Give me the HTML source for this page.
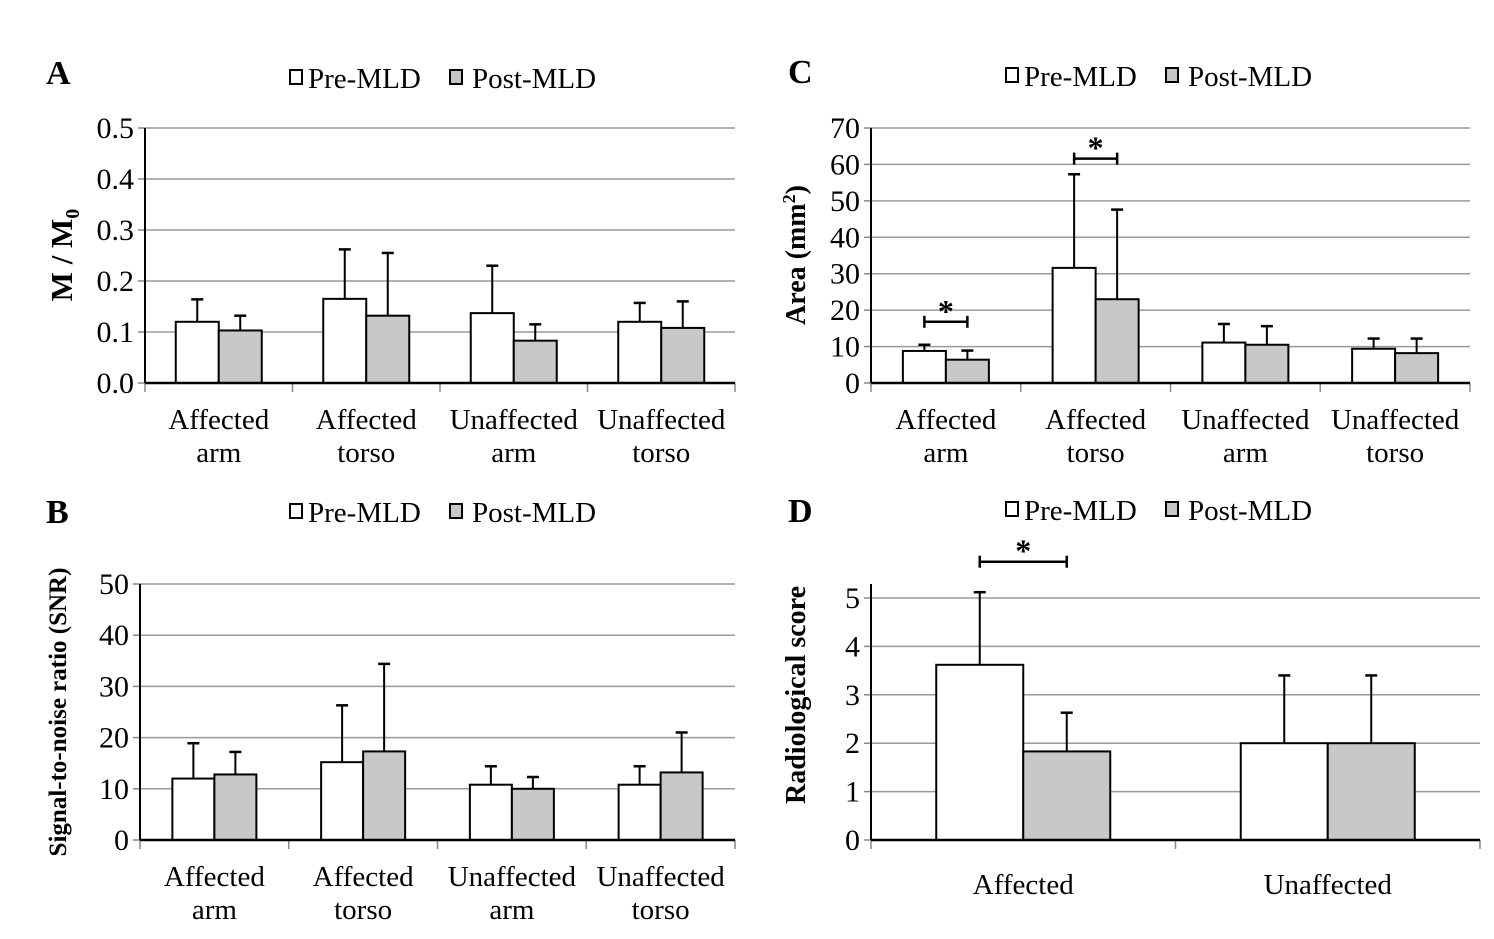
<!DOCTYPE html>
<html><head><meta charset="utf-8">
<style>
html,body{margin:0;padding:0;background:#fff;}
svg{display:block;font-family:"Liberation Serif",serif;}
</style></head>
<body>
<svg id="fig" width="1494" height="939" viewBox="0 0 1494 939" xmlns="http://www.w3.org/2000/svg">
<g id="static">
  <text x="46" y="84" font-size="34" font-weight="bold">A</text>
  <text x="46" y="523" font-size="34" font-weight="bold">B</text>
  <text x="788" y="83" font-size="34" font-weight="bold">C</text>
  <text x="788" y="522" font-size="34" font-weight="bold">D</text>
  <text transform="translate(72,255) rotate(-90)" text-anchor="middle" font-size="31" font-weight="bold">M / M<tspan font-size="20" dy="7">0</tspan></text>
  <text transform="translate(66,712) rotate(-90)" text-anchor="middle" font-size="25" font-weight="bold">Signal-to-noise ratio (SNR)</text>
  <text transform="translate(805,255) rotate(-90)" text-anchor="middle" font-size="28" font-weight="bold">Area (mm<tspan font-size="18" dy="-10">2</tspan><tspan dy="10">)</tspan></text>
  <text transform="translate(805,695) rotate(-90)" text-anchor="middle" font-size="28" font-weight="bold">Radiological score</text>
</g>
</svg>
<script>
const NS='http://www.w3.org/2000/svg';
const svg=document.getElementById('fig');
// Panel A data
const catsA=[['Affected','arm'],['Affected','torso'],['Unaffected','arm'],['Unaffected','torso']];
const preA=[0.12,0.165,0.137,0.12];
const postA=[0.103,0.132,0.083,0.108];
const preErrA=[0.164,0.262,0.23,0.157];
const postErrA=[0.132,0.255,0.115,0.16];
const ticksA=['0.0','0.1','0.2','0.3','0.4','0.5'];
// Panel B data
const catsB=[['Affected','arm'],['Affected','torso'],['Unaffected','arm'],['Unaffected','torso']];
const preB=[12,15.2,10.8,10.8];
const postB=[12.8,17.3,10,13.2];
const preErrB=[18.9,26.3,14.4,14.4];
const postErrB=[17.2,34.4,12.3,21];
const ticksB=['0','10','20','30','40','50'];
// Panel C data
const catsC=[['Affected','arm'],['Affected','torso'],['Unaffected','arm'],['Unaffected','torso']];
const preC=[8.8,31.6,11.1,9.4];
const postC=[6.4,23,10.5,8.2];
const preErrC=[10.5,57.3,16.2,12.2];
const postErrC=[8.9,47.6,15.6,12.2];
const ticksC=['0','10','20','30','40','50','60','70'];
const sigC=[[0,16.8],[1,61.6]];
// Panel D data
const catsD=[['Affected'],['Unaffected']];
const preD=[3.62,2];
const postD=[1.83,2];
const preErrD=[5.12,3.4];
const postErrD=[2.63,3.4];
const ticksD=['0','1','2','3','4','5'];
const sigD=[[0,5.75]];

function el(tag,attrs,parent){const e=document.createElementNS(NS,tag);for(const k in attrs)e.setAttribute(k,attrs[k]);(parent||svg).appendChild(e);return e;}

function panel(p){
  const g=el('g',{});
  
  
  const y=v=>p.bottom-(v/p.tickMax)*(p.bottom-p.tickTop);
  const n=p.cats.length, cw=(p.right-p.ax)/n;
  p.ticks.forEach((t)=>{
    const v=Number(t), yy=y(v);
    if(v>0){const gl=el('line',{x1:p.ax,x2:p.right,y1:yy,y2:yy,stroke:'#9a9a9a','stroke-width':1.5},g);
      
      }
    el('line',{x1:p.ax-7,x2:p.ax,y1:yy,y2:yy,stroke:'#888','stroke-width':1.5},g);
    const tx=el('text',{x:p.ax-11,y:yy+10,'text-anchor':'end','font-size':30},g);
    tx.textContent=t;
    
    
  });
  const ya=el('line',{x1:p.ax,x2:p.ax,y1:p.axTop,y2:p.bottom,stroke:'#000','stroke-width':2},g);
  
  
  for(let i=0;i<=n;i++){el('line',{x1:p.ax+i*cw,x2:p.ax+i*cw,y1:p.bottom,y2:p.bottom+9,stroke:'#888','stroke-width':1.5},g);}
  for(let i=0;i<n;i++){
    const c=p.ax+cw*(i+0.5);
    [[p.pre,p.preErr,'#fff',c-p.bw,'pre'],[p.post,p.postErr,'#c8c8c8',c,'post']].forEach(s=>{
      const v=s[0][i], e=s[1][i], x0=s[3];
      const r=el('rect',{x:x0,y:y(v),width:p.bw,height:p.bottom-y(v),fill:s[2],stroke:'#000','stroke-width':2},g);
      
      
      const ex=x0+p.bw/2;
      el('line',{x1:ex,x2:ex,y1:y(v),y2:y(e),stroke:'#000','stroke-width':2},g);
      const cap=el('line',{x1:ex-6,x2:ex+6,y1:y(e),y2:y(e),stroke:'#000','stroke-width':2.5},g);
      
      
    });
    p.cats[i].forEach((line,j)=>{
      const t=el('text',{x:c,y:p.bottom+(p.cats[i].length===1?54:46)+j*33,'text-anchor':'middle','font-size':29},g);
      t.textContent=line;
      
      
    });
  }
  const xa=el('line',{x1:p.ax,x2:p.right,y1:p.bottom,y2:p.bottom,stroke:'#000','stroke-width':2.5},g);
  
  
  (p.sig||[]).forEach(s=>{
    const c=p.ax+cw*(s[0]+0.5), x1=c-p.bw/2, x2=c+p.bw/2, yy=y(s[1]);
    const b=el('g',{},g);
    
    
    el('line',{x1:x1,x2:x2,y1:yy,y2:yy,stroke:'#000','stroke-width':2.5},b);
    el('line',{x1:x1,x2:x1,y1:yy-6,y2:yy+6,stroke:'#000','stroke-width':2.5},b);
    el('line',{x1:x2,x2:x2,y1:yy-6,y2:yy+6,stroke:'#000','stroke-width':2.5},b);
    const st=el('text',{x:c,y:yy,'text-anchor':'middle','font-size':32,'font-weight':'bold'},b);
    st.textContent='*';
  });
  const lg=el('g',{},g);
  
  
  const lx=p.legX, ly=p.legY;
  const e1=el('rect',{x:lx,y:ly,width:12,height:14,fill:'#fff',stroke:'#000','stroke-width':2},lg);
  
  
  const t1=el('text',{x:lx+18,y:ly+18,'font-size':29},lg);t1.textContent='Pre-MLD';
  
  
  const e2=el('rect',{x:lx+160,y:ly,width:12,height:14,fill:'#c8c8c8',stroke:'#000','stroke-width':2},lg);
  
  
  const t2=el('text',{x:lx+182,y:ly+18,'font-size':29},lg);t2.textContent='Post-MLD';
  
  
}
panel({name:'panel-a',cats:catsA,pre:preA,post:postA,preErr:preErrA,postErr:postErrA,ticks:ticksA,tickMax:0.5,ax:145,right:735,tickTop:128,axTop:128,bottom:383,bw:43,legX:290,legY:70});
panel({name:'panel-b',cats:catsB,pre:preB,post:postB,preErr:preErrB,postErr:postErrB,ticks:ticksB,tickMax:50,ax:140,right:735,tickTop:584,axTop:584,bottom:840,bw:42,legX:290,legY:504});
panel({name:'panel-c',cats:catsC,pre:preC,post:postC,preErr:preErrC,postErr:postErrC,ticks:ticksC,tickMax:70,ax:871,right:1470,tickTop:128,axTop:128,bottom:383,bw:43,sig:sigC,legX:1006,legY:68});
panel({name:'panel-d',cats:catsD,pre:preD,post:postD,preErr:preErrD,postErr:postErrD,ticks:ticksD,tickMax:5,ax:871,right:1480,tickTop:598,axTop:584,bottom:840,bw:87,sig:sigD,legX:1006,legY:502});
</script>
</body></html>
